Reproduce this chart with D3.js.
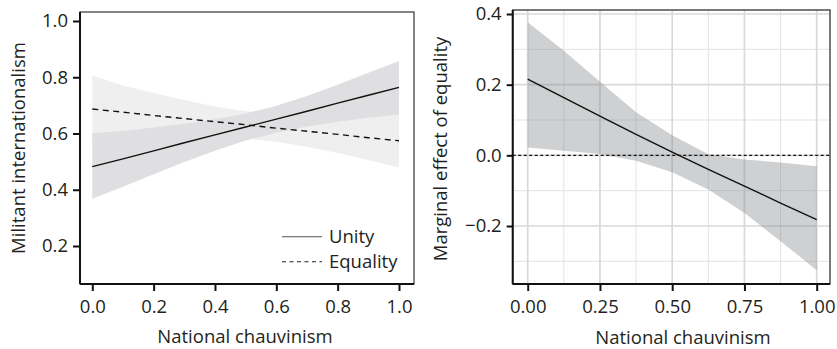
<!DOCTYPE html>
<html>
<head>
<meta charset="utf-8">
<script src="https://cdn.jsdelivr.net/npm/d3@7"></script>
<style>
  html, body { margin: 0; padding: 0; background: #fff; }
  svg { display: block; }
  text { font-family: "Open Sans", "Noto Sans", sans-serif; fill: #231f20; }
</style>
</head>
<body>
<svg id="chart" width="837" height="349"></svg>
<script>
// ---- Left panel: predicted militant internationalism by condition ----
const chauvinism = [0, 0.1, 0.2, 0.3, 0.4, 0.5, 0.6, 0.7, 0.8, 0.9, 1.0];
const unityFit   = [0.482, 0.510, 0.538, 0.567, 0.595, 0.623, 0.651, 0.679, 0.708, 0.736, 0.764];
const unityLow   = [0.368, 0.411, 0.455, 0.499, 0.539, 0.575, 0.603, 0.625, 0.642, 0.656, 0.668];
const unityHigh  = [0.601, 0.609, 0.621, 0.635, 0.651, 0.671, 0.699, 0.733, 0.773, 0.816, 0.858];
const equalityFit  = [0.687, 0.676, 0.664, 0.653, 0.642, 0.631, 0.619, 0.608, 0.597, 0.585, 0.574];
const equalityLow  = [0.580, 0.581, 0.585, 0.587, 0.587, 0.582, 0.571, 0.553, 0.531, 0.506, 0.479];
const equalityHigh = [0.805, 0.771, 0.744, 0.719, 0.696, 0.679, 0.668, 0.663, 0.663, 0.665, 0.669];
const leftXTicks = [0, 0.2, 0.4, 0.6, 0.8, 1.0];
const leftYTicks = [0.2, 0.4, 0.6, 0.8, 1.0];
const legendLabels = ["Unity", "Equality"];

// ---- Right panel: marginal effect of equality ----
const meX    = [0, 0.125, 0.25, 0.375, 0.5, 0.625, 0.75, 0.875, 1.0];
const meFit  = [0.216, 0.163, 0.111, 0.059, 0.009, -0.040, -0.087, -0.135, -0.182];
const meLow  = [0.022, 0.013, 0.004, -0.015, -0.048, -0.097, -0.163, -0.243, -0.325];
const meHigh = [0.377, 0.296, 0.208, 0.122, 0.057, 0.003, -0.012, -0.020, -0.031];
const rightXTicks = [0, 0.25, 0.5, 0.75, 1.0];
const rightXMinor = [0.125, 0.375, 0.625, 0.875];
const rightYTicks = [-0.2, 0, 0.2, 0.4];
const rightYMinor = [-0.3, -0.1, 0.1, 0.3];

const xTitle = "National chauvinism";
const leftYTitle = "Militant internationalism";
const rightYTitle = "Marginal effect of equality";

const svg = d3.select("#chart");
const FS = 18.5;
const minus = s => s.replace("-", "\u2212");

// ===== Left panel =====
const L = { left: 80, right: 414, top: 12, bottom: 284 };
const xL = d3.scaleLinear().domain([0, 1]).range([92.3, 399]);
const yL = d3.scaleLinear().domain([0.2, 1.0]).range([246, 21]);
const gL = svg.append("g");

const rowsU = chauvinism.map((x, i) => ({ x, lo: unityLow[i], hi: unityHigh[i], y: unityFit[i] }));
const rowsE = chauvinism.map((x, i) => ({ x, lo: equalityLow[i], hi: equalityHigh[i], y: equalityFit[i] }));
const areaL = d3.area().x(d => xL(d.x)).y0(d => yL(d.lo)).y1(d => yL(d.hi));
const lineL = d3.line().x(d => xL(d.x)).y(d => yL(d.y));

gL.append("path").datum(rowsE).attr("d", areaL).attr("fill", "#efeff0");
gL.append("path").datum(rowsU).attr("d", areaL).attr("fill", "#dfdfe1");
gL.append("path").datum(rowsU).attr("d", lineL)
  .attr("fill", "none").attr("stroke", "#111").attr("stroke-width", 1.4);
gL.append("path").datum(rowsE).attr("d", lineL)
  .attr("fill", "none").attr("stroke", "#111").attr("stroke-width", 1.4)
  .attr("stroke-dasharray", "6,4.5");

gL.append("rect")
  .attr("x", L.left).attr("y", L.top)
  .attr("width", L.right - L.left).attr("height", L.bottom - L.top)
  .attr("fill", "none").attr("stroke", "#444").attr("stroke-width", 1.3);

const axBL = gL.append("g").attr("transform", `translate(0,${L.bottom})`)
  .call(d3.axisBottom(xL).tickValues(leftXTicks).tickSize(7).tickPadding(9).tickFormat(d3.format(".1f")));
const axLL = gL.append("g").attr("transform", `translate(${L.left},0)`)
  .call(d3.axisLeft(yL).tickValues(leftYTicks).tickSize(7).tickPadding(5).tickFormat(d3.format(".1f")));

// legend
const legY = [236.7, 261.7];
legendLabels.forEach((lab, i) => {
  gL.append("line")
    .attr("x1", 282).attr("x2", 322).attr("y1", legY[i]).attr("y2", legY[i])
    .attr("stroke", i === 0 ? "#555" : "#222").attr("stroke-width", 1.1)
    .attr("stroke-dasharray", i === 0 ? null : "4,3.5");
  gL.append("text").attr("x", 329).attr("y", legY[i] + 6.5)
    .attr("font-size", FS).text(lab);
});

gL.append("text").attr("x", 245).attr("y", 343)
  .attr("text-anchor", "middle").attr("font-size", FS).text(xTitle);
gL.append("text")
  .attr("transform", `translate(25,148) rotate(-90)`)
  .attr("text-anchor", "middle").attr("font-size", FS).text(leftYTitle);

// ===== Right panel =====
const R = { left: 512.7, right: 830, top: 10, bottom: 284 };
const xR = d3.scaleLinear().domain([0, 1]).range([527.7, 816.7]);
const yR = d3.scaleLinear().domain([-0.2, 0.4]).range([226, 14]);
const gR = svg.append("g");

// grid
gR.selectAll("line.vmin").data(rightXMinor).join("line")
  .attr("x1", d => xR(d)).attr("x2", d => xR(d)).attr("y1", R.top).attr("y2", R.bottom)
  .attr("stroke", "#e3e3e3").attr("stroke-width", 1);
gR.selectAll("line.hmin").data(rightYMinor).join("line")
  .attr("x1", R.left).attr("x2", R.right).attr("y1", d => yR(d)).attr("y2", d => yR(d))
  .attr("stroke", "#e3e3e3").attr("stroke-width", 1);
gR.selectAll("line.vmaj").data(rightXTicks).join("line")
  .attr("x1", d => xR(d)).attr("x2", d => xR(d)).attr("y1", R.top).attr("y2", R.bottom)
  .attr("stroke", "#d9d9d9").attr("stroke-width", 1.7);
gR.selectAll("line.hmaj").data(rightYTicks).join("line")
  .attr("x1", R.left).attr("x2", R.right).attr("y1", d => yR(d)).attr("y2", d => yR(d))
  .attr("stroke", "#d9d9d9").attr("stroke-width", 1.7);

const rowsM = meX.map((x, i) => ({ x, lo: meLow[i], hi: meHigh[i], y: meFit[i] }));
gR.append("path").datum(rowsM)
  .attr("d", d3.area().x(d => xR(d.x)).y0(d => yR(d.lo)).y1(d => yR(d.hi)))
  .attr("fill", "#7d8085").attr("fill-opacity", 0.37);

gR.append("line")
  .attr("x1", R.left).attr("x2", R.right).attr("y1", yR(0)).attr("y2", yR(0))
  .attr("stroke", "#111").attr("stroke-width", 1.1).attr("stroke-dasharray", "3,2.5");

gR.append("path").datum(rowsM)
  .attr("d", d3.line().x(d => xR(d.x)).y(d => yR(d.y)))
  .attr("fill", "none").attr("stroke", "#111").attr("stroke-width", 1.4);

gR.append("rect")
  .attr("x", R.left).attr("y", R.top)
  .attr("width", R.right - R.left).attr("height", R.bottom - R.top)
  .attr("fill", "none").attr("stroke", "#333").attr("stroke-width", 1.3);

const axBR = gR.append("g").attr("transform", `translate(0,${R.bottom})`)
  .call(d3.axisBottom(xR).tickValues(rightXTicks).tickSize(7).tickPadding(9).tickFormat(d3.format(".2f")));
const axLR = gR.append("g").attr("transform", `translate(${R.left},0)`)
  .call(d3.axisLeft(yR).tickValues(rightYTicks).tickSize(6).tickPadding(5)
    .tickFormat(d => minus(d3.format(".1f")(d))));

gR.append("text").attr("x", 683).attr("y", 344)
  .attr("text-anchor", "middle").attr("font-size", FS).text(xTitle);
gR.append("text")
  .attr("transform", `translate(447,149) rotate(-90)`)
  .attr("text-anchor", "middle").attr("font-size", FS).text(rightYTitle);

// shared axis styling
[axBL, axLL, axBR, axLR].forEach(ax => {
  ax.select(".domain").attr("stroke", "#111").attr("stroke-width", 2);
  ax.selectAll(".tick line").attr("stroke", "#111").attr("stroke-width", 2);
  ax.selectAll(".tick text").attr("font-size", FS).attr("fill", "#231f20")
    .attr("font-family", "'Open Sans', 'Noto Sans', sans-serif");
});
[axBL, axBR].forEach(ax => ax.select(".domain").attr("d", null));
axLL.select(".domain").attr("d", `M0,${L.top}V${L.bottom}`);
axLR.select(".domain").attr("d", `M0,${R.top}V${R.bottom}`);
axBL.append("line").attr("x1", L.left).attr("x2", L.right).attr("stroke", "#111").attr("stroke-width", 2);
axBR.append("line").attr("x1", R.left).attr("x2", R.right).attr("stroke", "#111").attr("stroke-width", 2);
</script>
</body>
</html>
